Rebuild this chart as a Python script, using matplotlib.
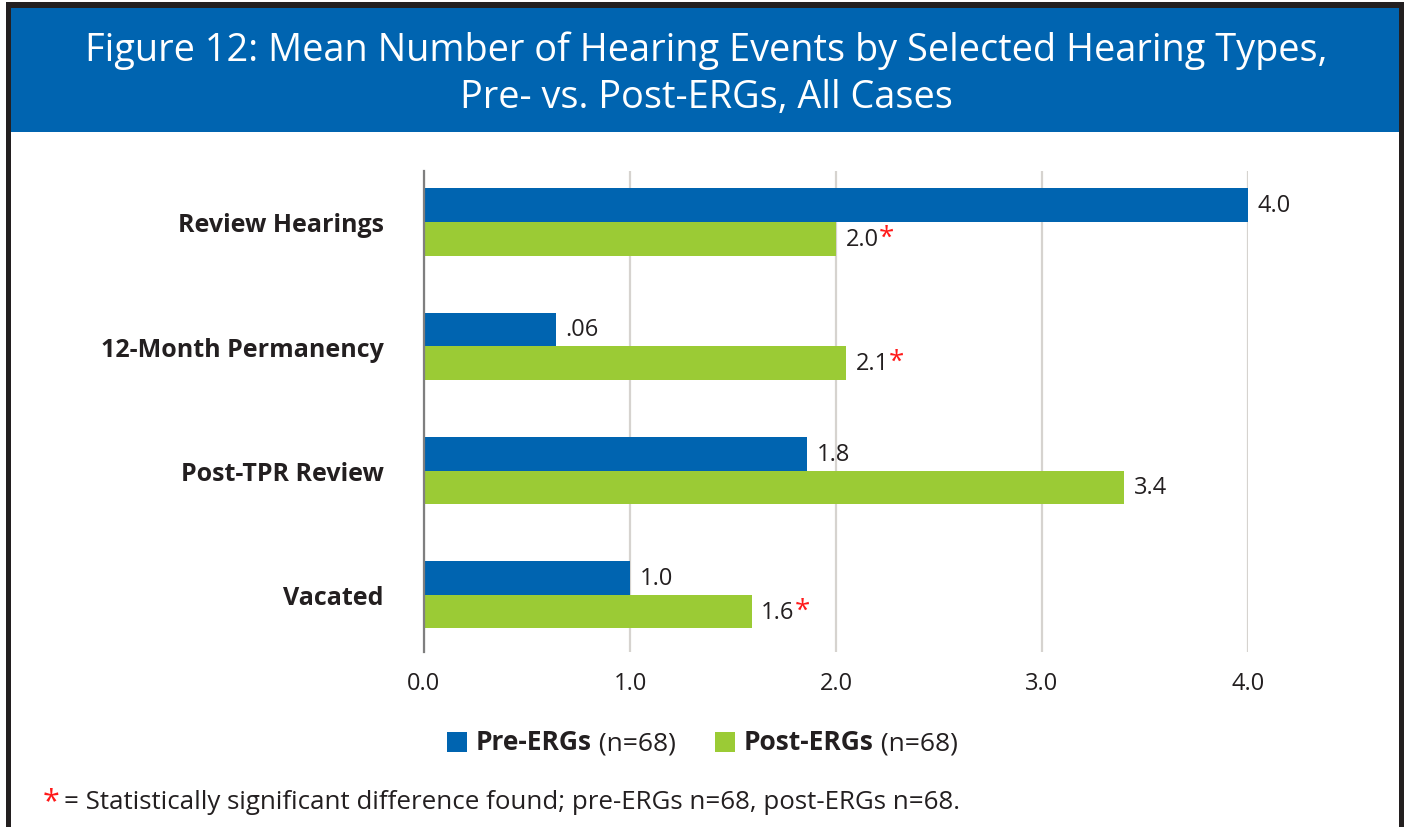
import matplotlib.pyplot as plt
from matplotlib.patches import Rectangle
import numpy as np

plt.rcParams['font.family'] = ['Open Sans', 'DejaVu Sans']

# Data
categories = ['Review Hearings', '12-Month Permanency', 'Post-TPR Review', 'Vacated']
pre_values = [4.0, 0.64, 1.86, 1.0]
post_values = [2.0, 2.05, 3.40, 1.59]
pre_labels = ['4.0', '.06', '1.8', '1.0']
post_labels = ['2.0', '2.1', '3.4', '1.6']
post_significant = [True, True, False, True]
xticks = [0, 1, 2, 3, 4]
xtick_labels = ['0.0', '1.0', '2.0', '3.0', '4.0']

blue = '#0064b0'
green = '#9bcb35'
dark = '#231f20'
red = '#ff1a1a'

W, H = 1408, 828
fig = plt.figure(figsize=(W / 100, H / 100), dpi=100)

# frame and title banner (pixel -> figure coords)
def box(x0, y0, x1, y1, color, z):
    fig.patches.append(Rectangle((x0 / W, 1 - y1 / H), (x1 - x0) / W, (y1 - y0) / H,
                                 transform=fig.transFigure, facecolor=color,
                                 edgecolor='none', zorder=z))

box(6, 3, 1404, 840, dark, 0)
box(11, 9, 1399, 840, 'white', 0.5)
box(11, 9, 1399, 133, blue, 1)

fig.text(706 / W, 1 - 61 / H,
         'Figure 12: Mean Number of Hearing Events by Selected Hearing Types,',
         color='white', fontsize=27.3, ha='center', va='baseline')
fig.text(706 / W, 1 - 108 / H, 'Pre- vs. Post-ERGs, All Cases',
         color='white', fontsize=27.3, ha='center', va='baseline')

# chart
ax = fig.add_axes([424 / W, 1 - 653 / H, (1248 - 424) / W, (653 - 172) / H])
ax.set_zorder(2)
y = np.arange(len(categories))
h = 0.27
ax.barh(y - h / 2, pre_values, height=h, color=blue, zorder=3)
ax.barh(y + h / 2, post_values, height=h, color=green, zorder=3)

ax.set_xlim(0, 4)
ax.set_ylim(3.46, -0.41)
ax.set_xticks(xticks)
ax.set_xticklabels(xtick_labels, fontsize=17, color=dark)
ax.set_yticks(y)
ax.set_yticklabels(categories, fontsize=18, fontweight='bold', color=dark)
ax.tick_params(axis='both', length=0)
ax.tick_params(axis='y', pad=29)
ax.tick_params(axis='x', pad=14)
ax.grid(axis='x', color='#d6d3cf', linewidth=1.6, zorder=0)
ax.set_axisbelow(True)
for s in ['top', 'right', 'bottom']:
    ax.spines[s].set_visible(False)
ax.spines['left'].set_color('#7f7f7f')
ax.spines['left'].set_linewidth(1.6)
ax.spines['left'].set_zorder(4)
ax.set_facecolor('none')

for i in range(len(categories)):
    ax.annotate(pre_labels[i], (pre_values[i], y[i] - h / 2), xytext=(7, 0),
                textcoords='offset points', va='center', ha='left',
                fontsize=17, color=dark)
    t = ax.annotate(post_labels[i], (post_values[i], y[i] + h / 2), xytext=(7, 0),
                    textcoords='offset points', va='center', ha='left',
                    fontsize=17, color=dark)
    if post_significant[i]:
        ax.annotate('*', xy=(1, 0.55), xycoords=t, va='center', ha='left',
                    fontsize=20, color=red)

# legend
box(447, 733, 467, 753, blue, 3)
box(715, 733, 735, 753, green, 3)
t1 = fig.text(476 / W, 1 - 743 / H, 'Pre-ERGs', fontsize=19, fontweight='bold',
              color=dark, ha='left', va='center')
ax.annotate(' (n=68)', xy=(1, 0), xycoords=t1, ha='left', va='bottom',
            fontsize=19, color=dark, annotation_clip=False)
t2 = fig.text(744 / W, 1 - 743 / H, 'Post-ERGs', fontsize=19, fontweight='bold',
              color=dark, ha='left', va='center')
ax.annotate(' (n=68)', xy=(1, 0), xycoords=t2, ha='left', va='bottom',
            fontsize=19, color=dark, annotation_clip=False)

# footnote
fig.text(43 / W, 1 - 802 / H, '*', fontsize=22, color=red, ha='left', va='center')
fig.text(64 / W, 1 - 803 / H,
         '= Statistically significant difference found; pre-ERGs n=68, post-ERGs n=68.',
         fontsize=18.6, color=dark, ha='left', va='center')

fig.savefig('out.png', dpi=100)
